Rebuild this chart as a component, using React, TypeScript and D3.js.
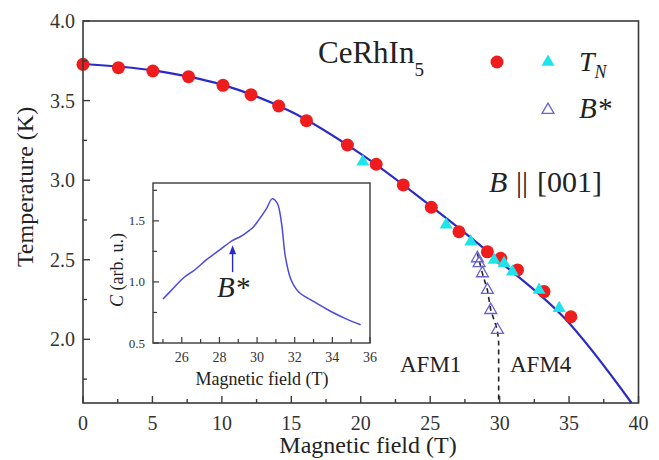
import React from 'react';
import * as d3 from 'd3';

const W = 659;
const H = 460;
const FONT = "'Liberation Serif', 'Times New Roman', serif";

// ---- main panel data ----
const circleField = [0, 2.55, 5.03, 7.6, 10.08, 12.1, 14.09, 16.09, 19.04, 21.11, 23.06, 25.08, 27.07, 29.12, 30.08, 31.29, 33.2, 35.13];
const circleTemp = [3.728, 3.707, 3.686, 3.65, 3.596, 3.537, 3.466, 3.374, 3.221, 3.1, 2.97, 2.83, 2.676, 2.55, 2.509, 2.436, 2.3, 2.142];

const triField = [20.15, 26.15, 27.92, 29.6, 30.32, 30.92, 32.84, 34.29];
const triTemp = [3.116, 2.72, 2.613, 2.498, 2.478, 2.425, 2.31, 2.195];

const bStarField = [28.4, 28.52, 28.76, 29.12, 29.36, 29.84];
const bStarTemp = [2.509, 2.478, 2.415, 2.31, 2.184, 2.059];

const dashField = [28.4, 28.76, 29.12, 29.36, 29.84, 29.93, 29.93];
const dashTemp = [2.54, 2.415, 2.31, 2.184, 2.059, 1.98, 1.6];

const fitField = [0, 5, 10, 15, 20, 25, 30, 34.6, 39.5];
const fitTemp = [3.73, 3.69, 3.6, 3.43, 3.165, 2.84, 2.49, 2.14, 1.6];

const xTicks = [0, 5, 10, 15, 20, 25, 30, 35, 40];
const xMinor = [2.5, 7.5, 12.5, 17.5, 22.5, 27.5, 32.5, 37.5];
const yTicks = [2.0, 2.5, 3.0, 3.5, 4.0];
const yMinor = [1.75, 2.25, 2.75, 3.25, 3.75];

// ---- inset data ----
const insetField = [25.0, 25.5, 26.07, 26.7, 27.3, 28.0, 28.7, 29.1, 29.4, 29.8, 30.1, 30.5, 30.8, 31.07, 31.3, 31.5, 31.8, 32.2, 33.0, 33.9, 34.7, 35.5];
const insetC = [0.86, 0.94, 1.03, 1.1, 1.18, 1.26, 1.34, 1.37, 1.4, 1.45, 1.51, 1.6, 1.68, 1.645, 1.48, 1.21, 1.02, 0.92, 0.84, 0.76, 0.7, 0.65];
const insetXTicks = [26, 28, 30, 32, 34, 36];
const insetXMinor = [25, 27, 29, 31, 33, 35];
const insetYTicks = [0.5, 1.0, 1.5];
const insetYMinor = [0.75, 1.25, 1.75];
const arrowField = 28.7;
const arrowC = [1.08, 1.3];

const RED = '#ee1c1c';
const CYAN = '#1fe3ea';
const OPEN = '#6a62d6';
const LINE = '#2a2ac8';
const INSET_LINE = '#4a4ae0';
const AX = '#3a3a3a';

export default function App() {
  const x = d3.scaleLinear().domain([0, 40]).range([83, 638.5]);
  const y = d3.scaleLinear().domain([1.6, 4.0]).range([403, 21]);

  const ix = d3.scaleLinear().domain([24.47, 36]).range([153, 370]);
  const iy = d3.scaleLinear().domain([0.5, 1.81]).range([343, 183]);

  const fitLine = d3
    .line<number>()
    .x((d, i) => x(fitField[i]))
    .y((d) => y(d))
    .curve(d3.curveCatmullRom)(fitTemp) as string;

  const dashLine = d3
    .line<number>()
    .x((d, i) => x(dashField[i]))
    .y((d) => y(d))(dashTemp) as string;

  const insetLine = d3
    .line<number>()
    .x((d, i) => ix(insetField[i]))
    .y((d) => iy(d))
    .curve(d3.curveCatmullRom)(insetC) as string;

  const triFilled = d3.symbol(d3.symbolTriangle, 72)() as string;
  const triOpen = d3.symbol(d3.symbolTriangle, 62)() as string;

  const [x0, x1] = x.range();
  const [y0, y1] = y.range();

  return (
    <svg
      width={W}
      height={H}
      style={{ position: 'absolute', left: 0, top: 0, background: '#fff' }}
      fontFamily={FONT}
    >
      <rect x={0} y={0} width={W} height={H} fill="#fff" />

      {/* fit curve */}
      <path d={fitLine} fill="none" stroke={LINE} strokeWidth={2.2} />

      {/* dashed boundary */}
      <path d={dashLine} fill="none" stroke="#222" strokeWidth={1.6} strokeDasharray="5,4" />

      {/* red circles */}
      {circleTemp.map((t, i) => (
        <circle key={'c' + i} cx={x(circleField[i])} cy={y(t)} r={6.5} fill={RED} />
      ))}

      {/* cyan triangles */}
      {triTemp.map((t, i) => (
        <path key={'t' + i} d={triFilled} transform={`translate(${x(triField[i])},${y(t)})`} fill={CYAN} />
      ))}

      {/* open triangles B* */}
      {bStarTemp.map((t, i) => (
        <path
          key={'b' + i}
          d={triOpen}
          transform={`translate(${x(bStarField[i])},${y(t)})`}
          fill="none"
          stroke={OPEN}
          strokeWidth={1.3}
        />
      ))}

      {/* frame */}
      <rect x={x0} y={y1} width={x1 - x0} height={y0 - y1} fill="none" stroke={AX} strokeWidth={1.6} />

      {/* x ticks */}
      {xTicks.map((v) => (
        <g key={'xt' + v}>
          <line x1={x(v)} x2={x(v)} y1={y0} y2={y0 - 7} stroke={AX} strokeWidth={1.4} />
          <text x={x(v)} y={430} textAnchor="middle" fontSize={20} fill="#333">
            {v}
          </text>
        </g>
      ))}
      {xMinor.map((v) => (
        <line key={'xm' + v} x1={x(v)} x2={x(v)} y1={y0} y2={y0 - 4} stroke={AX} strokeWidth={1.4} />
      ))}

      {/* y ticks */}
      {yTicks.map((v) => (
        <g key={'yt' + v}>
          <line x1={x0} x2={x0 + 7} y1={y(v)} y2={y(v)} stroke={AX} strokeWidth={1.4} />
          <text x={75} y={y(v)} dy="0.35em" textAnchor="end" fontSize={20} fill="#333">
            {v.toFixed(1)}
          </text>
        </g>
      ))}
      {yMinor.map((v) => (
        <line key={'ym' + v} x1={x0} x2={x0 + 4} y1={y(v)} y2={y(v)} stroke={AX} strokeWidth={1.4} />
      ))}

      {/* axis titles */}
      <text x={368} y={453} textAnchor="middle" fontSize={24} fill="#222">
        Magnetic field (T)
      </text>
      <text transform="translate(33,187) rotate(-90)" textAnchor="middle" fontSize={24} fill="#222">
        Temperature (K)
      </text>

      {/* labels */}
      <text x={318} y={63} fontSize={31} fill="#222">
        CeRhIn
        <tspan fontSize={19} dy={13}>5</tspan>
      </text>

      <circle cx={497} cy={62} r={6.5} fill={RED} />
      <path d={triFilled} transform="translate(548,62)" fill={CYAN} />
      <text x={579} y={71} fontSize={28} fontStyle="italic" fill="#222">
        T<tspan fontSize={18} dy={7}>N</tspan>
      </text>
      <path d={triOpen} transform="translate(548,110)" fill="none" stroke={OPEN} strokeWidth={1.3} />
      <text x={579} y={118} fontSize={29} fontStyle="italic" fill="#222">
        B*
      </text>

      <text y={192} fontSize={30} fill="#222">
        <tspan x={489} fontStyle="italic">B</tspan>
        <tspan x={516}>||</tspan>
        <tspan x={537}>[001]</tspan>
      </text>

      <text x={400} y={372} fontSize={23} fill="#222">
        AFM1
      </text>
      <text x={510} y={372} fontSize={23} fill="#222">
        AFM4
      </text>

      {/* inset */}
      <rect x={153} y={183} width={217} height={160} fill="#fff" stroke={AX} strokeWidth={1.4} />
      <path d={insetLine} fill="none" stroke={INSET_LINE} strokeWidth={1.5} />
      {insetXTicks.map((v) => (
        <g key={'ixt' + v}>
          <line x1={ix(v)} x2={ix(v)} y1={343} y2={337} stroke={AX} strokeWidth={1.2} />
          <text x={ix(v)} y={362} textAnchor="middle" fontSize={14} fill="#333">
            {v}
          </text>
        </g>
      ))}
      {insetXMinor.map((v) => (
        <line key={'ixm' + v} x1={ix(v)} x2={ix(v)} y1={343} y2={339} stroke={AX} strokeWidth={1.2} />
      ))}
      {insetYTicks.map((v) => (
        <g key={'iyt' + v}>
          <line x1={153} x2={159} y1={iy(v)} y2={iy(v)} stroke={AX} strokeWidth={1.2} />
          <text x={145} y={iy(v)} dy="0.35em" textAnchor="end" fontSize={13} fill="#333">
            {v.toFixed(1)}
          </text>
        </g>
      ))}
      {insetYMinor.map((v) => (
        <line key={'iym' + v} x1={153} x2={157} y1={iy(v)} y2={iy(v)} stroke={AX} strokeWidth={1.2} />
      ))}
      <text x={262} y={385} textAnchor="middle" fontSize={18} fill="#222">
        Magnetic field (T)
      </text>
      <text transform="translate(123,270) rotate(-90)" textAnchor="middle" fontSize={18} fill="#222">
        <tspan fontStyle="italic">C</tspan> (arb. u.)
      </text>

      {/* B* arrow */}
      <line
        x1={ix(arrowField)}
        x2={ix(arrowField)}
        y1={iy(arrowC[0])}
        y2={iy(arrowC[1]) + 7}
        stroke={LINE}
        strokeWidth={1.4}
      />
      <path
        d={`M${ix(arrowField)},${iy(arrowC[1])} l-3.5,9 l7,0 z`}
        fill={LINE}
      />
      <text x={217} y={297} fontSize={29} fontStyle="italic" fill="#222">
        B*
      </text>
    </svg>
  );
}
